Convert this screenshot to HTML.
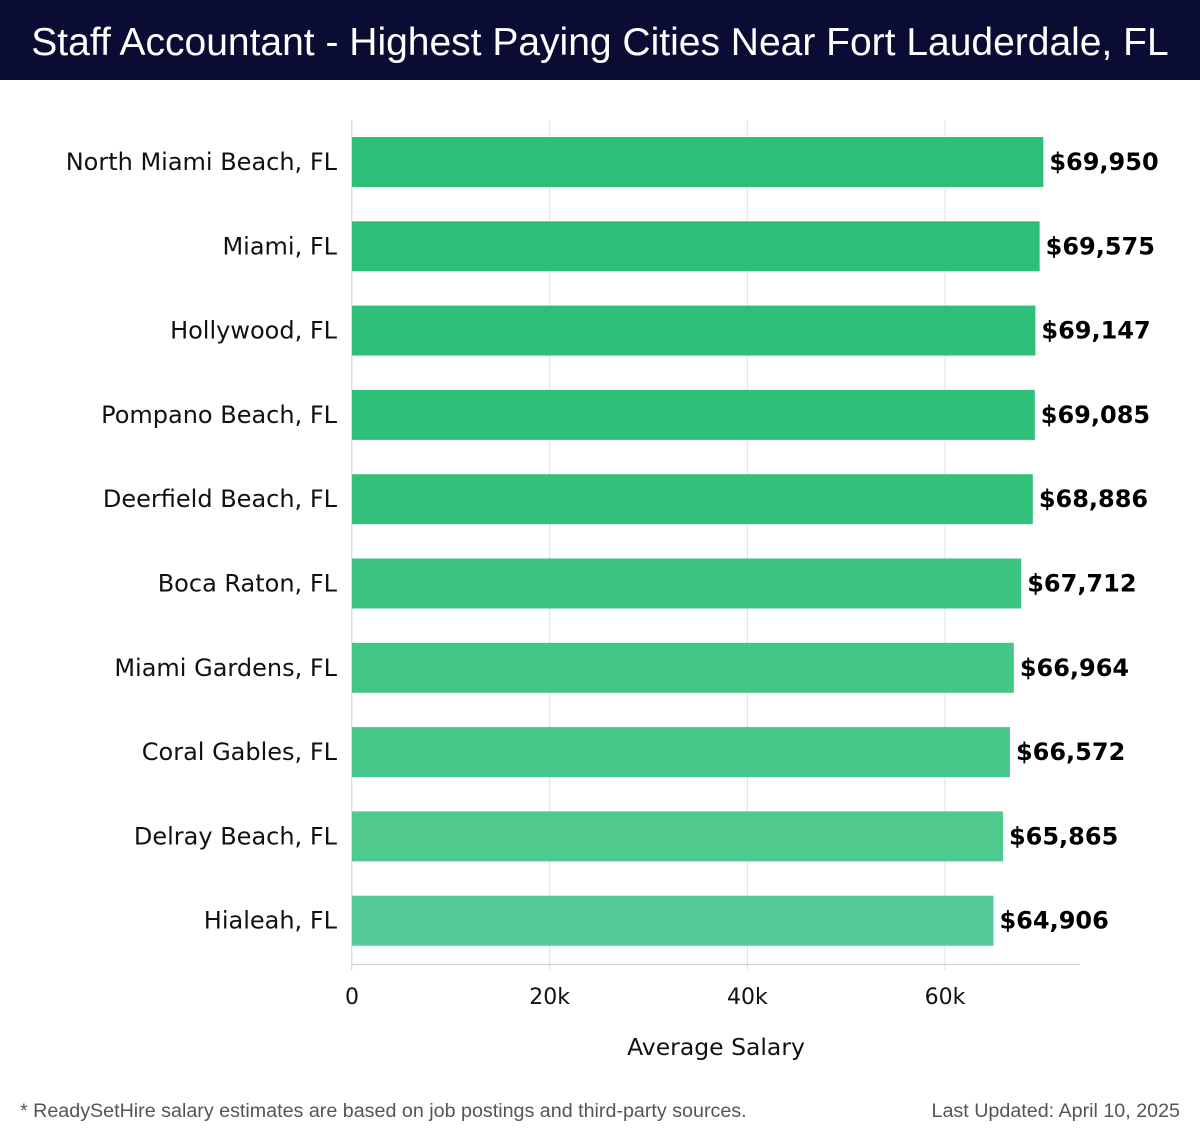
<!DOCTYPE html>
<html><head><meta charset="utf-8"><style>
body{margin:0;width:1200px;height:1140px;background:#fff;font-family:"Liberation Sans","DejaVu Sans",sans-serif;position:relative;overflow:hidden}
#hdr{position:absolute;left:0;top:0;width:1200px;height:80px;background:#0a0c33;color:#fff;font-size:39px;line-height:86px;text-align:center;white-space:nowrap}
.foot{position:absolute;top:1100px;font-size:19.7px;color:#555}
svg text{font-family:"DejaVu Sans","Liberation Sans",sans-serif}
</style></head><body>
<div id="hdr">Staff Accountant - Highest Paying Cities Near Fort Lauderdale, FL</div>
<svg id="chart" width="1200" height="1140" style="position:absolute;left:0;top:0"></svg>
<div class="foot" style="left:20px">* ReadySetHire salary estimates are based on job postings and third-party sources.</div>
<div class="foot" style="right:20px">Last Updated: April 10, 2025</div>
<script>
const cities=["North Miami Beach, FL","Miami, FL","Hollywood, FL","Pompano Beach, FL","Deerfield Beach, FL","Boca Raton, FL","Miami Gardens, FL","Coral Gables, FL","Delray Beach, FL","Hialeah, FL"];
const salaries=[69950,69575,69147,69085,68886,67712,66964,66572,65865,64906];
const ticks=[0,20000,40000,60000];
const tickLabels=["0","20k","40k","60k"];
const colors=["#2bbf77","#2cbf78","#2ec079","#2fc07a","#31c17b","#3cc482","#44c687","#48c78a","#50c98f","#57cb97"];
const NS="http://www.w3.org/2000/svg";
const svg=document.getElementById('chart');
const x0=352,pxPer=(945-352)/60000,axisEnd=1080,top0=162,step=84.3,bh=50;
const x=v=>x0+v*pxPer, y=i=>top0+i*step;
function mk(t,a){const e=document.createElementNS(NS,t);for(const k in a)e.setAttribute(k,a[k]);svg.appendChild(e);return e;}
ticks.forEach((t,i)=>{
 const g=mk('line',{x1:x(t),x2:x(t),y1:120,y2:970,stroke:'#e0e0e0','stroke-width':1});
 
 
 const l=mk('text',{x:x(t),y:1004,'font-size':22,'text-anchor':'middle',fill:'#111'});
 l.textContent=tickLabels[i];
 
 
});
const ax=mk('line',{x1:x0,x2:axisEnd,y1:964.5,y2:964.5,stroke:'#ccc','stroke-width':1});


salaries.forEach((v,i)=>{
 const b=mk('rect',{x:x0,y:y(i)-bh/2,width:x(v)-x0,height:bh,fill:colors[i]});
 
 
 const lab=mk('text',{x:337,y:y(i)+8,'font-size':24,'text-anchor':'end',fill:'#111'});
 lab.textContent=cities[i];
 
 
 const vl=mk('text',{x:x(v)+6,y:y(i)+8,'font-size':24,'font-weight':'bold',fill:'#000'});
 vl.textContent='$'+v.toLocaleString('en-US');
 
 
});
const yl=mk('line',{x1:x0-0.5,x2:x0-0.5,y1:120,y2:970,stroke:'#ddd','stroke-width':1});


const at=mk('text',{x:716,y:1055,'font-size':23.5,'text-anchor':'middle',fill:'#111'});
at.textContent='Average Salary';


</script>
</body></html>
